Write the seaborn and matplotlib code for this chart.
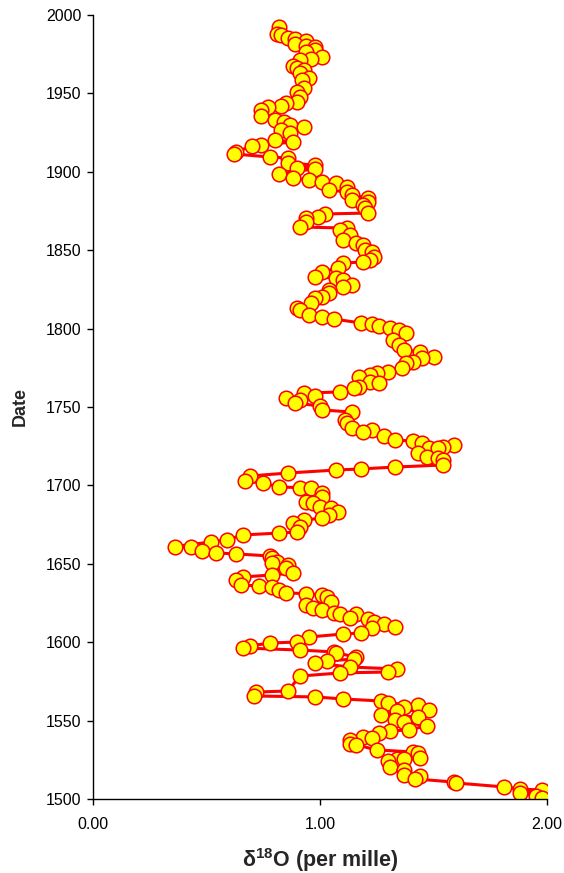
import matplotlib
matplotlib.use("Agg")
import matplotlib.pyplot as plt
import numpy as np
import pandas as pd
import seaborn as sns

# Oxygen isotope record: year of each sample and its d18O value (per mille)
dates = [
    1992.3, 1987.9, 1987.2, 1985.3, 1984.7, 1983.4, 1981.5, 1980.2, 1979.6, 1977.7,
    1976.4, 1973.2, 1971.9, 1971.3, 1967.5, 1966.2, 1964.9, 1963.0, 1959.8, 1958.5,
    1953.4, 1950.9, 1947.7, 1944.5, 1943.9, 1942.0, 1941.3, 1939.4, 1935.6, 1933.0,
    1931.8, 1929.8, 1928.6, 1926.7, 1924.7, 1920.3, 1919.0, 1917.1, 1916.5, 1912.6,
    1911.4, 1909.4, 1908.8, 1905.6, 1904.3, 1902.4, 1902.0, 1898.6, 1896.0, 1894.8,
    1893.2, 1892.6, 1890.3, 1888.4, 1887.1, 1885.2, 1883.3, 1882.0, 1880.7, 1878.8,
    1876.9, 1873.7, 1873.1, 1871.2, 1870.6, 1868.0, 1864.8, 1864.1, 1862.9, 1859.6,
    1856.5, 1854.6, 1853.3, 1850.1, 1848.9, 1845.7, 1843.8, 1842.5, 1841.8, 1838.7,
    1836.1, 1832.9, 1832.3, 1831.0, 1827.8, 1826.5, 1824.6, 1822.7, 1820.2, 1819.5,
    1816.3, 1813.1, 1811.9, 1808.7, 1807.4, 1806.1, 1803.6, 1803.0, 1801.7, 1800.4,
    1799.1, 1797.2, 1792.7, 1789.5, 1786.4, 1785.1, 1781.9, 1781.3, 1778.7, 1778.1,
    1774.9, 1772.3, 1771.8, 1770.4, 1769.1, 1765.9, 1765.3, 1762.8, 1762.2, 1759.6,
    1758.9, 1757.0, 1755.7, 1754.5, 1752.6, 1750.6, 1748.1, 1746.8, 1741.7, 1739.8,
    1736.6, 1735.3, 1734.1, 1731.5, 1728.9, 1728.3, 1727.0, 1725.8, 1724.5, 1724.0,
    1723.9, 1720.7, 1718.1, 1717.5, 1716.2, 1713.0, 1711.7, 1710.5, 1709.8, 1707.9,
    1706.0, 1702.8, 1701.5, 1699.0, 1698.6, 1698.3, 1695.2, 1692.6, 1689.4, 1688.8,
    1686.2, 1685.6, 1683.0, 1681.1, 1679.2, 1677.9, 1675.9, 1673.5, 1670.3, 1669.6,
    1668.4, 1665.2, 1663.9, 1661.0, 1660.4, 1658.2, 1656.9, 1656.3, 1655.0, 1653.7,
    1651.2, 1650.5, 1649.2, 1647.3, 1644.1, 1642.9, 1641.6, 1639.7, 1636.5, 1635.9,
    1635.2, 1633.3, 1631.4, 1631.0, 1630.1, 1628.8, 1625.6, 1623.7, 1621.8, 1620.5,
    1618.6, 1618.0, 1617.9, 1615.4, 1615.0, 1612.9, 1611.6, 1609.7, 1609.1, 1605.9,
    1605.2, 1603.3, 1600.1, 1599.5, 1597.6, 1596.3, 1595.0, 1593.8, 1593.1, 1590.6,
    1589.3, 1588.0, 1586.7, 1584.2, 1582.9, 1581.0, 1580.4, 1578.4, 1568.9, 1568.2,
    1565.7, 1565.1, 1563.8, 1562.5, 1561.2, 1560.0, 1558.7, 1556.8, 1556.2, 1553.6,
    1552.3, 1550.4, 1549.1, 1546.6, 1544.0, 1543.5, 1542.1, 1539.6, 1538.9, 1537.6,
    1535.1, 1534.5, 1531.3, 1530.0, 1529.3, 1526.2, 1525.8, 1525.5, 1524.2, 1520.4,
    1518.5, 1515.3, 1514.7, 1512.8, 1510.8, 1510.2, 1507.7, 1506.4, 1505.7, 1503.8,
    1501.9, 1500.6, 1498.5,
]
d18o = [
    0.82, 0.81, 0.83, 0.86, 0.89, 0.94, 0.89, 0.94, 0.98, 0.98,
    0.94, 1.01, 0.96, 0.91, 0.88, 0.90, 0.93, 0.91, 0.95, 0.92,
    0.93, 0.90, 0.91, 0.90, 0.85, 0.83, 0.77, 0.74, 0.74, 0.80,
    0.84, 0.87, 0.93, 0.83, 0.87, 0.80, 0.88, 0.74, 0.70, 0.63,
    0.62, 0.78, 0.86, 0.86, 0.98, 0.90, 0.98, 0.82, 0.88, 0.95,
    1.01, 1.07, 1.12, 1.04, 1.12, 1.14, 1.21, 1.14, 1.21, 1.19,
    1.20, 1.21, 1.02, 0.99, 0.94, 0.94, 0.91, 1.12, 1.09, 1.13,
    1.10, 1.16, 1.19, 1.20, 1.23, 1.24, 1.22, 1.19, 1.10, 1.08,
    1.01, 0.98, 1.07, 1.10, 1.14, 1.10, 1.04, 1.04, 1.01, 0.98,
    0.96, 0.90, 0.91, 0.95, 1.01, 1.06, 1.18, 1.23, 1.26, 1.31,
    1.35, 1.38, 1.32, 1.35, 1.37, 1.44, 1.50, 1.45, 1.41, 1.38,
    1.36, 1.30, 1.25, 1.22, 1.17, 1.22, 1.26, 1.17, 1.15, 1.09,
    0.93, 0.98, 0.85, 0.91, 0.89, 1.00, 1.01, 1.14, 1.11, 1.12,
    1.14, 1.23, 1.19, 1.28, 1.33, 1.41, 1.45, 1.59, 1.54, 1.48,
    1.52, 1.43, 1.47, 1.52, 1.54, 1.54, 1.33, 1.18, 1.07, 0.86,
    0.69, 0.67, 0.75, 0.82, 0.91, 0.96, 1.01, 1.01, 0.94, 0.97,
    1.00, 1.05, 1.08, 1.04, 1.01, 0.93, 0.88, 0.91, 0.90, 0.82,
    0.66, 0.59, 0.52, 0.36, 0.43, 0.48, 0.54, 0.63, 0.78, 0.79,
    0.81, 0.79, 0.86, 0.85, 0.88, 0.79, 0.66, 0.63, 0.65, 0.73,
    0.79, 0.82, 0.85, 0.94, 1.01, 1.03, 1.05, 0.94, 0.97, 1.01,
    1.06, 1.16, 1.09, 1.13, 1.21, 1.24, 1.28, 1.33, 1.23, 1.18,
    1.10, 0.95, 0.90, 0.78, 0.69, 0.66, 0.91, 1.06, 1.07, 1.16,
    1.15, 1.03, 0.98, 1.13, 1.34, 1.30, 1.09, 0.91, 0.86, 0.72,
    0.71, 0.98, 1.10, 1.27, 1.30, 1.43, 1.37, 1.48, 1.34, 1.27,
    1.43, 1.33, 1.37, 1.47, 1.39, 1.31, 1.26, 1.19, 1.23, 1.13,
    1.13, 1.16, 1.25, 1.41, 1.43, 1.44, 1.34, 1.37, 1.30, 1.31,
    1.37, 1.37, 1.44, 1.42, 1.59, 1.60, 1.81, 1.88, 1.98, 1.88,
    1.95, 1.98, 2.08,
]

x_ticks = [0.0, 1.0, 2.0]
x_tick_labels = ["0.00", "1.00", "2.00"]
y_ticks = [1500, 1550, 1600, 1650, 1700, 1750, 1800, 1850, 1900, 1950, 2000]

df = pd.DataFrame({"Date": dates, "d18O": d18o})

sns.set_style("ticks")
plt.rcParams["font.family"] = ["Liberation Sans", "DejaVu Sans"]
plt.rcParams["mathtext.fontset"] = "custom"
plt.rcParams["mathtext.rm"] = "Liberation Sans"
plt.rcParams["mathtext.bf"] = "Liberation Sans:bold"

fig = plt.figure(figsize=(5.64, 8.73), dpi=100)
ax = fig.add_axes([93 / 564, 1 - 799 / 873, 454 / 564, 784 / 873])

sns.lineplot(
    data=df, x="d18O", y="Date", sort=False, estimator=None, ax=ax,
    color="#ff0000", linewidth=2.2,
    marker="o", markersize=10.5, markerfacecolor="#ffff00",
    markeredgecolor="#ff0000", markeredgewidth=1.1,
)

ax.set_xlim(0, 2)
ax.set_ylim(1500, 2000)
ax.set_xticks(x_ticks)
ax.set_xticklabels(x_tick_labels)
ax.set_yticks(y_ticks)
ax.tick_params(axis="x", direction="out", length=4, width=1, pad=9,
               labelsize=11.5, colors="black")
ax.tick_params(axis="y", direction="out", length=4.5, width=1, pad=4,
               labelsize=11.5, colors="black")
for side in ("top", "right"):
    ax.spines[side].set_visible(False)
for side in ("left", "bottom"):
    ax.spines[side].set_color("black")
    ax.spines[side].set_linewidth(1.0)

ax.set_ylabel("Date", fontsize=13, fontweight="bold", labelpad=12)
ax.set_xlabel(r"δ$\mathbf{^{18}}$O (per mille)", fontsize=15.5,
              fontweight="bold", labelpad=10)

fig.savefig("out.png", dpi=100)
